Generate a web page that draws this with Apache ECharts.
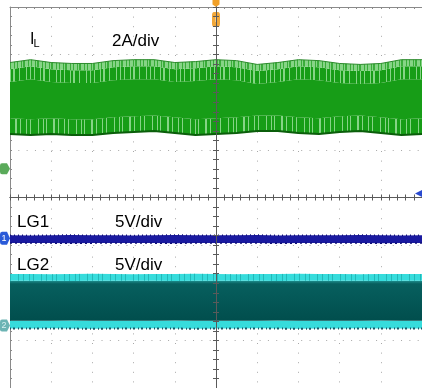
<!DOCTYPE html>
<html>
<head>
<meta charset="utf-8">
<script src="https://cdn.jsdelivr.net/npm/echarts@6/dist/echarts.min.js"></script>
<style>
  html, body { margin: 0; padding: 0; background: #ffffff; }
  #scope { width: 422px; height: 388px; }
</style>
</head>
<body>
<div id="scope"></div>
<script>
// Horizontal position in divisions from the trigger point (10 divisions across the screen).
const timeDiv = [-5, -4.5, -4, -3.5, -3, -2.5, -2, -1.5, -1, -0.5, 0, 0.5, 1, 1.5, 2, 2.5, 3, 3.5, 4, 4.5, 5];

// Inductor current I_L envelope (A), 2 A/div.
const ilMax = [4.46, 4.58, 4.46, 4.42, 4.42, 4.54, 4.58, 4.58, 4.46, 4.50, 4.58, 4.54, 4.38, 4.46, 4.58, 4.54, 4.42, 4.38, 4.42, 4.58, 4.58];
const ilMin = [1.46, 1.42, 1.46, 1.42, 1.42, 1.50, 1.54, 1.58, 1.50, 1.42, 1.46, 1.50, 1.58, 1.58, 1.50, 1.46, 1.54, 1.58, 1.50, 1.42, 1.46];

// LG1 gate drive (V), 5 V/div: held low, noise band.
const lg1Max = [0.31, 0.29, 0.31, 0.33, 0.30, 0.31, 0.29, 0.31, 0.33, 0.31, 0.30, 0.31, 0.33, 0.29, 0.31, 0.31, 0.30, 0.33, 0.31, 0.29, 0.31];
const lg1Min = [-0.52, -0.50, -0.52, -0.54, -0.52, -0.50, -0.52, -0.52, -0.54, -0.50, -0.52, -0.52, -0.50, -0.54, -0.52, -0.52, -0.50, -0.52, -0.54, -0.52, -0.52];

// LG2 gate drive (V), 5 V/div: switching between low and high plateaus.
const lg2HighMax = [5.42, 5.42, 5.40, 5.42, 5.44, 5.42, 5.40, 5.42, 5.42, 5.44, 5.42, 5.40, 5.42, 5.42, 5.44, 5.42, 5.42, 5.40, 5.42, 5.42, 5.42];
const lg2HighMin = [4.70, 4.72, 4.70, 4.68, 4.70, 4.72, 4.70, 4.70, 4.68, 4.70, 4.72, 4.70, 4.70, 4.68, 4.70, 4.72, 4.70, 4.70, 4.68, 4.70, 4.70];
const lg2LowMax = [0.52, 0.50, 0.52, 0.54, 0.52, 0.50, 0.52, 0.52, 0.54, 0.50, 0.52, 0.52, 0.50, 0.54, 0.52, 0.52, 0.50, 0.52, 0.54, 0.52, 0.52];
const lg2LowMin = [-0.31, -0.31, -0.29, -0.31, -0.33, -0.31, -0.31, -0.29, -0.31, -0.33, -0.31, -0.31, -0.29, -0.31, -0.33, -0.31, -0.31, -0.29, -0.31, -0.31, -0.31];

// Trigger level on LG1 (V).
const lg1TriggerLevel = 4.69;

// Channel settings: units per division and ground reference (divisions from screen centre).
const IL_SCALE = 2, IL_GROUND = 0.604;
const LG1_SCALE = 5, LG1_GROUND = -0.854;
const LG2_SCALE = 5, LG2_GROUND = -2.69;

// Visual depth of the ripple-spike zones of the I_L trace (divisions).
const IL_TOP_DENSE = 0.14, IL_TOP_SPARSE = 0.27, IL_BOTTOM_SPARSE = 0.33;

const FONT = '"Liberation Sans", Arial, sans-serif';
const timeCats = timeDiv.map(String);
const FIRST = timeCats[0], LAST = timeCats[timeCats.length - 1], TRIG = '0';

const toDiv = (arr, scale, ground) => arr.map(v => ground + v / scale);
const diff = (hi, lo) => hi.map((v, i) => v - lo[i]);
const konst = c => timeDiv.map(() => c);

// Waveform series live on a hidden category grid so bands can be stacked along y.
const WAVE = { xAxisIndex: 3, yAxisIndex: 3 };

function stackLayer(name, stackId, values, fill, decal) {
  const s = Object.assign({
    name, type: 'line', stack: stackId, stackStrategy: 'all',
    data: values, symbol: 'none', silent: true,
    lineStyle: { opacity: 0 }, z: 2
  }, WAVE);
  if (fill) s.areaStyle = { color: fill, opacity: 1 };
  if (decal) s.itemStyle = { decal: Object.assign({ symbol: 'rect', symbolSize: 1, symbolKeepAspect: false, dashArrayY: [40, 0] }, decal) };
  return s;
}
function edge(name, values, style, markPoint) {
  const s = Object.assign({ name, type: 'line', data: values, symbol: 'none', silent: true, lineStyle: style, z: 3 }, WAVE);
  if (markPoint) s.markPoint = markPoint;
  return s;
}

// I_L layers
const ilLo = toDiv(ilMin, IL_SCALE, IL_GROUND);
const ilHi = toDiv(ilMax, IL_SCALE, IL_GROUND);
const ilCore = ilHi.map((v, i) => v - ilLo[i] - IL_BOTTOM_SPARSE - IL_TOP_SPARSE - IL_TOP_DENSE);

// LG1 layers
const g1Lo = toDiv(lg1Min, LG1_SCALE, LG1_GROUND);
const g1Hi = toDiv(lg1Max, LG1_SCALE, LG1_GROUND);

// LG2 layers
const g2LL = toDiv(lg2LowMin, LG2_SCALE, LG2_GROUND);
const g2LH = toDiv(lg2LowMax, LG2_SCALE, LG2_GROUND);
const g2HL = toDiv(lg2HighMin, LG2_SCALE, LG2_GROUND);
const g2HH = toDiv(lg2HighMax, LG2_SCALE, LG2_GROUND);

const GREEN = '#179d17', GREEN_LIGHT = '#86d486', GREEN_DARK = '#0b5e0b';
const NAVY = '#1a1aa0';
const CYAN = '#36dcdc';

const chMarker = 'path://M2,0 H7 L10,5 L7,10 H2 Q0,10 0,8 V2 Q0,0 2,0 Z';

const series = [
  // I_L band
  stackLayer('il-base', 'il', ilLo),
  stackLayer('il-bottom-spikes', 'il', konst(IL_BOTTOM_SPARSE), GREEN,
    { color: GREEN_LIGHT, dashArrayX: [1, 4, 1, 2, 1, 6, 2, 3, 1, 5, 1, 3, 1, 7] }),
  stackLayer('il-core', 'il', ilCore, GREEN),
  stackLayer('il-top-spikes', 'il', konst(IL_TOP_SPARSE), GREEN,
    { color: GREEN_LIGHT, dashArrayX: [1, 3, 1, 5, 1, 2, 2, 4, 1, 6, 1, 3] }),
  stackLayer('il-top-edge', 'il', konst(IL_TOP_DENSE), GREEN_LIGHT,
    { color: '#3aad3a', dashArrayX: [1, 2, 1, 3, 1, 1, 2, 3] }),
  edge('il-min', ilLo, { color: GREEN_DARK, width: 2 }, {
    silent: true,
    data: [{ coord: [FIRST, IL_GROUND], symbol: chMarker, symbolSize: [10, 11], symbolOffset: [-5, 0],
      itemStyle: { color: '#5aaa5a' }, label: { show: false } }]
  }),
  edge('il-max', ilHi, { color: '#2c8a2c', width: 1 }, {
    silent: true,
    data: [
      { coord: [TRIG, 4], symbol: 'path://M0,0 H8 V5 L4,8 L0,5 Z', symbolSize: [7, 7], symbolOffset: [0, -3.5],
        itemStyle: { color: '#f0a028' }, label: { show: false } },
      { coord: [TRIG, 4], symbol: 'roundRect', symbolSize: [8, 15], symbolOffset: [0, 12.5],
        itemStyle: { color: '#f2a83a' },
        label: { show: true, formatter: 'T', color: '#fff3d0', fontSize: 9, fontFamily: FONT, position: 'inside' } }
    ]
  }),

  // LG1 band
  stackLayer('lg1-base', 'lg1', g1Lo),
  stackLayer('lg1-band', 'lg1', diff(g1Hi, g1Lo), NAVY),
  edge('lg1-noise-hi', g1Hi, { color: '#101078', width: 1.5, type: [1, 3] }),
  edge('lg1-noise-lo', g1Lo, { color: '#101078', width: 1.5, type: [2, 3] }, {
    silent: true,
    data: [
      { coord: [FIRST, LG1_GROUND], symbol: chMarker, symbolSize: [10, 13], symbolOffset: [-5, 0],
        itemStyle: { color: '#2a5ad8' },
        label: { show: true, formatter: '1', color: '#ffffff', fontSize: 9, fontFamily: FONT, position: 'inside', offset: [-1, 0] } },
      { coord: [LAST, LG1_GROUND + lg1TriggerLevel / LG1_SCALE], symbol: 'triangle', symbolRotate: 90, symbolSize: [8, 8], symbolOffset: [-3, 0],
        itemStyle: { color: '#2a4ad0' }, label: { show: false } }
    ]
  }),

  // LG2 band
  stackLayer('lg2-base', 'lg2', g2LL),
  stackLayer('lg2-low', 'lg2', diff(g2LH, g2LL), CYAN),
  stackLayer('lg2-core', 'lg2', diff(g2HL, g2LH), {
    type: 'linear', x: 0, y: 0, x2: 0, y2: 1,
    colorStops: [{ offset: 0, color: '#1f8e8e' }, { offset: 0.08, color: '#075f5e' }, { offset: 1, color: '#014e4d' }]
  }),
  stackLayer('lg2-high', 'lg2', diff(g2HH, g2HL), CYAN,
    { color: '#22b8b8', dashArrayX: [1, 5, 1, 3, 1, 7, 1, 4] }),
  edge('lg2-low-edge', g2LL, { color: '#1a5868', width: 2, type: [1, 2, 2, 3] }, {
    silent: true,
    data: [{ coord: [FIRST, LG2_GROUND], symbol: chMarker, symbolSize: [10, 12], symbolOffset: [-5, 0],
      itemStyle: { color: '#6cb4b4' },
      label: { show: true, formatter: '2', color: '#d8f0f0', fontSize: 9, fontFamily: FONT, position: 'inside', offset: [-1, 0] } }]
  })
];

const AXIS_DARK = '#5a5a5a';
const centreTicks = {
  axisLine: { show: true, onZero: true, lineStyle: { color: AXIS_DARK, width: 1 } },
  axisTick: { show: true, length: 3, lineStyle: { color: AXIS_DARK } },
  minorTick: { show: true, splitNumber: 5, length: 3, lineStyle: { color: AXIS_DARK } },
  axisLabel: { show: false },
  splitLine: { show: false },
  z: 10
};
const GRID_RECT = { left: 10, top: 7, right: -4, bottom: -3 };

const option = {
  animation: false,
  backgroundColor: '#ffffff',
  grid: [Object.assign({}, GRID_RECT), Object.assign({}, GRID_RECT), Object.assign({}, GRID_RECT)],
  xAxis: [
    Object.assign({ type: 'value', gridIndex: 0, position: 'bottom', min: -5, max: 5, interval: 1 }, centreTicks),
    Object.assign({ type: 'value', gridIndex: 0, position: 'top', min: -5, max: 5, interval: 1 }, centreTicks,
      { axisLine: Object.assign({}, centreTicks.axisLine, { onZeroAxisIndex: 0 }) }),
    {
      type: 'value', gridIndex: 1, position: 'top', min: -5, max: 5, interval: 1,
      axisLine: { show: true, onZero: false, lineStyle: { color: '#8a8a8a' } },
      axisTick: { show: true, inside: true, length: 2, lineStyle: { color: '#8a8a8a' } },
      minorTick: { show: true, splitNumber: 5, length: 2, lineStyle: { color: '#8a8a8a' } },
      axisLabel: { show: false },
      splitLine: { show: true, lineStyle: { color: '#a8a8a8', width: 1, type: [1, 8.6] } },
      z: 0
    },
    { type: 'category', gridIndex: 2, data: timeCats, boundaryGap: false, show: false }
  ],
  yAxis: [
    Object.assign({ type: 'value', gridIndex: 0, position: 'left', min: -4, max: 4, interval: 1 }, centreTicks),
    Object.assign({ type: 'value', gridIndex: 0, position: 'right', min: -4, max: 4, interval: 1 }, centreTicks,
      { axisLine: Object.assign({}, centreTicks.axisLine, { onZeroAxisIndex: 0 }) }),
    {
      type: 'value', gridIndex: 1, position: 'left', min: -4, max: 4, interval: 1,
      axisLine: { show: true, onZero: false, lineStyle: { color: '#8a8a8a' } },
      axisTick: { show: true, inside: true, length: 2, lineStyle: { color: '#8a8a8a' } },
      minorTick: { show: true, splitNumber: 5, length: 2, lineStyle: { color: '#8a8a8a' } },
      axisLabel: { show: false },
      splitLine: { show: true, lineStyle: { color: '#a8a8a8', width: 1, type: [1, 7.32] } },
      z: 0
    },
    { type: 'value', gridIndex: 2, min: -4, max: 4, interval: 1, show: false }
  ],
  series: series,
  graphic: [
    { type: 'text', x: 30, y: 40, z: 20, style: { text: 'I', font: '16px ' + FONT, fill: '#000', verticalAlign: 'middle' } },
    { type: 'text', x: 33.5, y: 44, z: 20, style: { text: 'L', font: '11px ' + FONT, fill: '#000', verticalAlign: 'middle' } },
    { type: 'text', x: 112, y: 41, z: 20, style: { text: '2A/div', font: '17px ' + FONT, fill: '#000', verticalAlign: 'middle' } },
    { type: 'text', x: 17, y: 222, z: 20, style: { text: 'LG1', font: '17px ' + FONT, fill: '#000', verticalAlign: 'middle' } },
    { type: 'text', x: 115, y: 222, z: 20, style: { text: '5V/div', font: '17px ' + FONT, fill: '#000', verticalAlign: 'middle' } },
    { type: 'text', x: 17, y: 265, z: 20, style: { text: 'LG2', font: '17px ' + FONT, fill: '#000', verticalAlign: 'middle' } },
    { type: 'text', x: 115, y: 265, z: 20, style: { text: '5V/div', font: '17px ' + FONT, fill: '#000', verticalAlign: 'middle' } }
  ]
};

const chart = echarts.init(document.getElementById('scope'), null, { renderer: 'canvas' });
chart.setOption(option);
</script>
</body>
</html>
